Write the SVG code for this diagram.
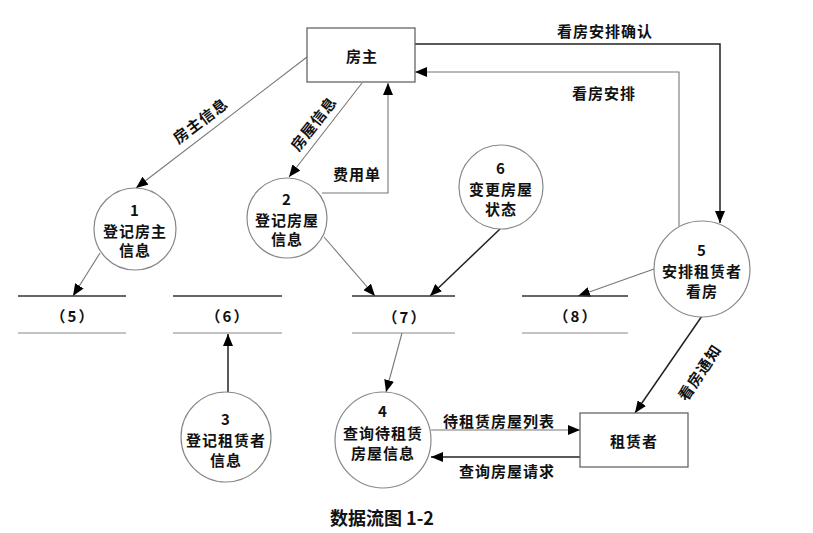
<svg xmlns="http://www.w3.org/2000/svg" width="813" height="533" viewBox="0 0 813 533">
<style>
text{font-family:"Noto Sans CJK SC","Liberation Serif",serif;font-weight:bold;fill:#111;text-anchor:middle;dominant-baseline:central}
.t{font-size:15px;letter-spacing:1px}
.lb{font-size:15px;letter-spacing:1px}
.st{font-size:15px;letter-spacing:2px}
.box{fill:#fff;stroke:#666;stroke-width:1.3}
.cir{fill:#fff;stroke:#888;stroke-width:1.2}
.ln{fill:none;stroke:#777;stroke-width:1.1}
.dk{fill:none;stroke:#222;stroke-width:1.5}
.s1{stroke:#333;stroke-width:1.4}
.s2{stroke:#888;stroke-width:1.1}
</style>
<defs>
<marker id="ah" markerUnits="userSpaceOnUse" markerWidth="12" markerHeight="10" refX="12" refY="5" orient="auto">
<path d="M0,0 L12,5 L0,10 z" fill="#000"/>
</marker>
</defs>
<rect width="813" height="533" fill="#fff"/>
<g id="connectors">
<line class="ln" x1="307" y1="57" x2="136" y2="188" marker-end="url(#ah)"/>
<line class="ln" x1="362" y1="83" x2="289" y2="177" marker-end="url(#ah)"/>
<polyline class="ln" points="322,193 388,193 388,83" marker-end="url(#ah)"/>
<polyline class="dk" points="415,44 720,44 720,223" marker-end="url(#ah)"/>
<polyline class="ln" points="679,226 679,72 415,72" marker-end="url(#ah)"/>
<line class="ln" x1="100" y1="253" x2="73" y2="296" marker-end="url(#ah)"/>
<line class="ln" x1="324" y1="237" x2="375" y2="296" marker-end="url(#ah)"/>
<line class="dk" x1="500" y1="229" x2="430" y2="296" marker-end="url(#ah)"/>
<line class="ln" x1="654" y1="269" x2="578" y2="296" marker-end="url(#ah)"/>
<line class="dk" x1="702" y1="316" x2="635" y2="413" marker-end="url(#ah)"/>
<line class="ln" x1="402" y1="333" x2="386" y2="392" marker-end="url(#ah)"/>
<line class="dk" x1="228" y1="392" x2="228" y2="334" marker-end="url(#ah)"/>
<line class="ln" x1="431" y1="430" x2="580" y2="430" marker-end="url(#ah)"/>
<line class="dk" x1="580" y1="457" x2="431" y2="457" marker-end="url(#ah)"/>
<text class="lb" transform="translate(200,120) rotate(-37)">房主信息</text>
<text class="lb" transform="translate(313,123) rotate(-52)">房屋信息</text>
<text class="lb" x="357" y="173">费用单</text>
<text class="lb" x="605" y="30">看房安排确认</text>
<text class="lb" x="604" y="92">看房安排</text>
<text class="lb" transform="translate(699,372) rotate(-56)">看房通知</text>
<text class="lb" x="499" y="420">待租赁房屋列表</text>
<text class="lb" x="507" y="470">查询房屋请求</text>
</g>
<g id="landlord">
<rect class="box" x="307" y="28" width="108" height="54"/>
<text class="t" x="362" y="55">房主</text>
</g>
<g id="tenant">
<rect class="box" x="580" y="413" width="108" height="54"/>
<text class="t" x="634" y="440">租赁者</text>
</g>
<g id="p1">
<circle class="cir" cx="135" cy="229" r="41"/>
<text class="t" x="135" y="209">1</text>
<text class="t" x="135" y="230">登记房主</text>
<text class="t" x="135" y="249">信息</text>
</g>
<g id="p2">
<circle class="cir" cx="287" cy="218" r="40"/>
<text class="t" x="287" y="198">2</text>
<text class="t" x="287" y="219">登记房屋</text>
<text class="t" x="287" y="238">信息</text>
</g>
<g id="p3">
<circle class="cir" cx="226" cy="437" r="45"/>
<text class="t" x="226" y="418">3</text>
<text class="t" x="226" y="439">登记租赁者</text>
<text class="t" x="226" y="459">信息</text>
</g>
<g id="p4">
<circle class="cir" cx="383" cy="440" r="48"/>
<text class="t" x="383" y="410">4</text>
<text class="t" x="383" y="432">查询待租赁</text>
<text class="t" x="383" y="452">房屋信息</text>
</g>
<g id="p5">
<circle class="cir" cx="702" cy="269" r="48"/>
<text class="t" x="702" y="249">5</text>
<text class="t" x="702" y="270">安排租赁者</text>
<text class="t" x="702" y="290">看房</text>
</g>
<g id="p6">
<circle class="cir" cx="501" cy="187" r="42"/>
<text class="t" x="501" y="167">6</text>
<text class="t" x="501" y="188">变更房屋</text>
<text class="t" x="501" y="208">状态</text>
</g>
<g id="d5">
<line class="s1" x1="18" y1="296" x2="126" y2="296"/>
<line class="s2" x1="18" y1="333" x2="126" y2="333"/>
<text class="st" x="73" y="315">（5）</text>
</g>
<g id="d6">
<line class="s1" x1="173" y1="296" x2="282" y2="296"/>
<line class="s2" x1="173" y1="333" x2="282" y2="333"/>
<text class="st" x="228" y="315">（6）</text>
</g>
<g id="d7">
<line class="s1" x1="352" y1="296" x2="455" y2="296"/>
<line class="s2" x1="352" y1="333" x2="455" y2="333"/>
<text class="st" x="405" y="316">（7）</text>
</g>
<g id="d8">
<line class="s1" x1="522" y1="296" x2="628" y2="296"/>
<line class="s2" x1="522" y1="333" x2="628" y2="333"/>
<text class="st" x="576" y="315">（8）</text>
</g>
<text x="382" y="517" style="font-size:18px">数据流图 1-2</text>
</svg>
